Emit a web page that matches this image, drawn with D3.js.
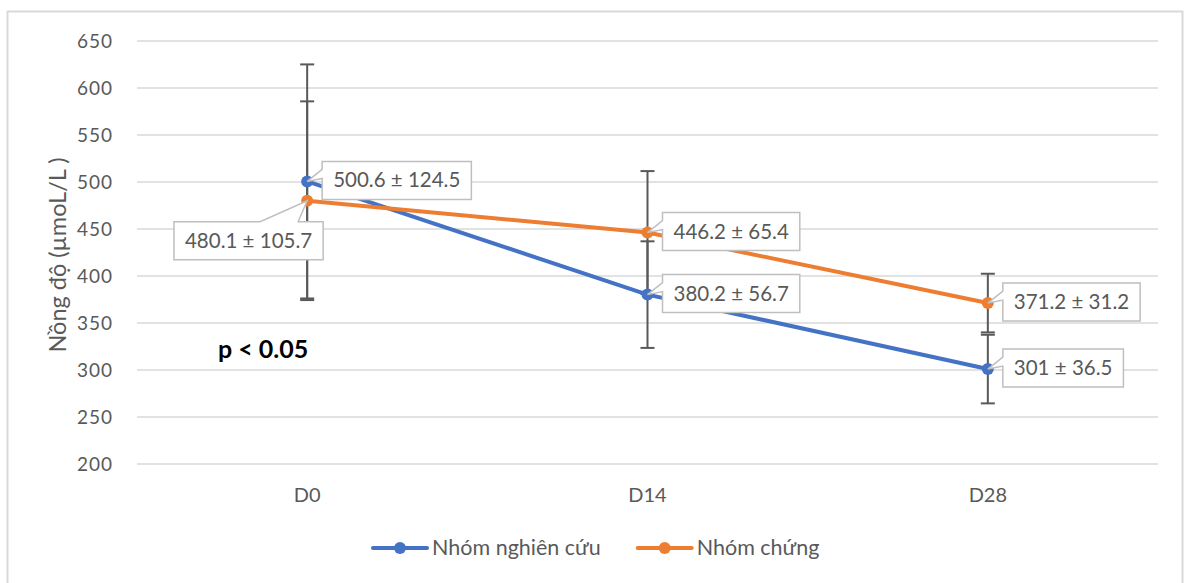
<!DOCTYPE html>
<html>
<head>
<meta charset="utf-8">
<script src="https://cdn.jsdelivr.net/npm/d3@7"></script>
<style>
  body { margin: 0; background: #fff; }
  svg { display: block; font-family: Lato, "Open Sans", sans-serif; }
</style>
</head>
<body>
<svg id="chart" width="1186" height="583"></svg>
<script>
const categories = ['D0', 'D14', 'D28'];
const studyMeans = [500.6, 380.2, 301];
const studySd = [124.5, 56.7, 36.5];
const controlMeans = [480.1, 446.2, 371.2];
const controlSd = [105.7, 65.4, 31.2];
const yTicks = [200, 250, 300, 350, 400, 450, 500, 550, 600, 650];
const seriesNames = ['Nhóm nghiên cứu', 'Nhóm chứng'];

const series = [
  { name: seriesNames[0], color: '#4472C4', means: studyMeans, sd: studySd },
  { name: seriesNames[1], color: '#ED7D31', means: controlMeans, sd: controlSd }
];

const svg = d3.select('#chart');
const margin = { top: 41, right: 28, bottom: 119, left: 137 };
const width = 1186;
const height = 583;

// outer chart border
svg.append('rect')
  .attr('x', 7.5).attr('y', 11.5)
  .attr('width', 1175).attr('height', 580)
  .attr('fill', '#fff').attr('stroke', '#D9D9D9').attr('stroke-width', 2);

const x = d3.scaleBand().domain(categories).range([margin.left, width - margin.right]);
const y = d3.scaleLinear().domain([200, 650]).range([height - margin.bottom, margin.top]);
const cx = d => x(d) + x.bandwidth() / 2;

// gridlines
svg.append('g')
  .selectAll('line')
  .data(yTicks)
  .enter()
  .append('line')
  .attr('x1', margin.left).attr('x2', width - margin.right)
  .attr('y1', d => y(d)).attr('y2', d => y(d))
  .attr('stroke', '#D9D9D9').attr('stroke-width', 1.5);

// y axis labels
const yAxis = svg.append('g')
  .attr('transform', `translate(${margin.left - 21},0)`)
  .call(d3.axisLeft(y).tickValues(yTicks).tickSize(0));
yAxis.select('.domain').remove();
yAxis.selectAll('text')
  .attr('fill', '#595959').attr('font-size', 19).attr('letter-spacing', 1)
  .attr('font-family', 'Lato, sans-serif');

// x axis labels
const xAxis = svg.append('g')
  .attr('transform', `translate(0,${height - margin.bottom + 21})`)
  .call(d3.axisBottom(x).tickSize(0));
xAxis.select('.domain').remove();
xAxis.selectAll('text')
  .attr('fill', '#595959').attr('font-size', 20).attr('font-family', 'Lato, sans-serif');

// y axis title
svg.append('text')
  .attr('transform', `translate(66,255) rotate(-90)`)
  .attr('text-anchor', 'middle')
  .attr('fill', '#595959').attr('font-size', 23.5)
  .text('Nồng độ (µmoL/L )');

// error bars
series.forEach(s => {
  const g = svg.append('g');
  categories.forEach((c, i) => {
    const lo = s.means[i] - s.sd[i];
    const hi = s.means[i] + s.sd[i];
    g.append('line')
      .attr('x1', cx(c)).attr('x2', cx(c))
      .attr('y1', y(lo)).attr('y2', y(hi))
      .attr('stroke', '#595959').attr('stroke-width', 2);
    [lo, hi].forEach(v => {
      g.append('line')
        .attr('x1', cx(c) - 7).attr('x2', cx(c) + 7)
        .attr('y1', y(v)).attr('y2', y(v))
        .attr('stroke', '#595959').attr('stroke-width', 2);
    });
  });
});

// lines and markers
const line = d3.line().x(d => cx(d.c)).y(d => y(d.v));
series.forEach(s => {
  const pts = categories.map((c, i) => ({ c, v: s.means[i] }));
  svg.append('path')
    .datum(pts)
    .attr('d', line)
    .attr('fill', 'none')
    .attr('stroke', s.color).attr('stroke-width', 4).attr('stroke-linejoin', 'round');
  svg.append('g')
    .selectAll('circle')
    .data(pts)
    .enter()
    .append('circle')
    .attr('cx', d => cx(d.c)).attr('cy', d => y(d.v)).attr('r', 6)
    .attr('fill', s.color);
});

// callout data labels
function callout(px, py, text, place) {
  const g = svg.append('g');
  const t = g.append('text')
    .attr('fill', '#595959').attr('font-size', 20.5)
    .text(text);
  const w = t.node().getComputedTextLength() + 22;
  const h = 38;
  let left, top, path;
  if (place === 'right') {
    left = px + 15; top = py - h / 2 - 1;
    path = `M${left},${top}H${left + w}V${top + h}H${left}V${top + 17}L${px},${py}L${left},${top + 8}Z`;
  } else {
    left = px - w + 16; top = py + 21;
    path = `M${left},${top}H${px - 47}L${px},${py}L${px - 9},${top}H${left + w}V${top + h}H${left}Z`;
  }
  g.insert('path', 'text')
    .attr('d', path)
    .attr('fill', '#fff').attr('stroke', '#BFBFBF').attr('stroke-width', 1.5);
  t.attr('x', left + 11).attr('y', top + h / 2 + 7);
}

series.forEach((s, si) => {
  categories.forEach((c, i) => {
    const place = (si === 1 && i === 0) ? 'below' : 'right';
    callout(cx(c), y(s.means[i]), `${s.means[i]} ± ${s.sd[i]}`, place);
  });
});

// significance note
svg.append('text')
  .attr('x', 218).attr('y', 358)
  .attr('font-size', 25).attr('font-weight', 'bold').attr('fill', '#000')
  .text('p < 0.05');

// legend
const legend = svg.append('g').attr('transform', 'translate(373,548)');
let lx = 0;
series.forEach(s => {
  const g = legend.append('g').attr('transform', `translate(${lx},0)`);
  g.append('line').attr('x1', 0).attr('x2', 54).attr('y1', 0).attr('y2', 0)
    .attr('stroke', s.color).attr('stroke-width', 4).attr('stroke-linecap', 'round');
  g.append('circle').attr('cx', 27).attr('cy', 0).attr('r', 6).attr('fill', s.color);
  const t = g.append('text').attr('x', 59).attr('y', 7)
    .attr('fill', '#595959').attr('font-size', 21.5).text(s.name);
  lx += 59 + t.node().getComputedTextLength() + 37;
});
</script>
</body>
</html>
